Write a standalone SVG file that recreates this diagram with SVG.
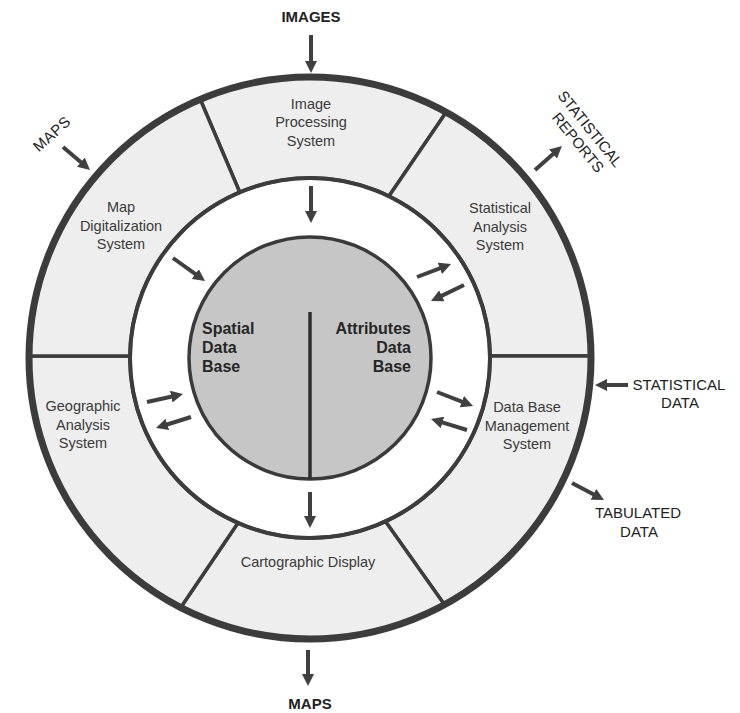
<svg xmlns="http://www.w3.org/2000/svg" width="740" height="713" viewBox="0 0 740 713">
<defs>
<style>
.seg{fill:#eeeeee;stroke:#3c3c3c;stroke-width:3.5;stroke-linejoin:round}
.lbl{font-family:"Liberation Sans",Arial,sans-serif;font-size:14.5px;fill:#3a3a3a;text-anchor:middle}
.out{font-family:"Liberation Sans",Arial,sans-serif;font-size:15px;fill:#222;text-anchor:middle}
.outb{font-family:"Liberation Sans",Arial,sans-serif;font-size:15px;font-weight:bold;fill:#222;text-anchor:middle}
.db{font-family:"Liberation Sans",Arial,sans-serif;font-size:16px;font-weight:bold;fill:#262626}
.arr{stroke:#404040;stroke-width:4;fill:none;marker-end:url(#ah)}
</style>
<marker id="ah" viewBox="0 0 12 12" refX="2" refY="6" markerWidth="12" markerHeight="12" markerUnits="userSpaceOnUse" orient="auto">
<path d="M0,0 L12,6 L0,12 Z" fill="#404040"/>
</marker>
</defs>
<rect width="740" height="713" fill="#ffffff"/>

<g id="image-processing">
<path class="seg" d="M200.2,99.3 A281,281 0 0 1 446.2,112.2 L388.9,196.2 A180,180 0 0 0 239.7,192.3 Z"/>
<text class="lbl" x="311" y="108.5">Image</text>
<text class="lbl" x="311" y="127">Processing</text>
<text class="lbl" x="311" y="145.5">System</text>
</g>
<g id="statistical-analysis">
<path class="seg" d="M446.2,112.2 A281,281 0 0 1 591,356 L490,356 A180,180 0 0 0 388.9,196.2 Z"/>
<text class="lbl" x="500" y="213">Statistical</text>
<text class="lbl" x="500" y="231.5">Analysis</text>
<text class="lbl" x="500" y="250">System</text>
</g>
<g id="data-base-management">
<path class="seg" d="M591,356 A281,281 0 0 1 444.5,604.7 L385.5,521.4 A180,180 0 0 0 490,356 Z"/>
<text class="lbl" x="527" y="412">Data Base</text>
<text class="lbl" x="527" y="430.5">Management</text>
<text class="lbl" x="527" y="449">System</text>
</g>
<g id="cartographic-display">
<path class="seg" d="M444.5,604.7 A281,281 0 0 1 180.7,607.5 L237.9,522.9 A180,180 0 0 0 385.5,521.4 Z"/>
<text class="lbl" x="308" y="567">Cartographic Display</text>
</g>
<g id="geographic-analysis">
<path class="seg" d="M180.7,607.5 A281,281 0 0 1 29,356 L130,356 A180,180 0 0 0 237.9,522.9 Z"/>
<text class="lbl" x="83" y="411">Geographic</text>
<text class="lbl" x="83" y="429.5">Analysis</text>
<text class="lbl" x="83" y="448">System</text>
</g>
<g id="map-digitalization">
<path class="seg" d="M29,356 A281,281 0 0 1 200.2,99.3 L239.7,192.3 A180,180 0 0 0 130,356 Z"/>
<text class="lbl" x="121" y="212">Map</text>
<text class="lbl" x="121" y="230.5">Digitalization</text>
<text class="lbl" x="121" y="249">System</text>
</g>

<g id="rings" fill="none" stroke="#3c3c3c">
<circle cx="310" cy="358" r="281" stroke-width="7"/>
<circle cx="310" cy="358" r="180" stroke-width="4"/>
</g>

<g id="database">
<circle cx="310" cy="358" r="121" fill="#c6c6c6" stroke="#3a3a3a" stroke-width="3.5"/>
<line x1="310" y1="312" x2="310" y2="479" stroke="#2e2e2e" stroke-width="3.5"/>
<g id="spatial-data-base">
<text class="db" x="202" y="334">Spatial</text>
<text class="db" x="202" y="353">Data</text>
<text class="db" x="202" y="372">Base</text>
</g>
<g id="attributes-data-base">
<text class="db" x="411" y="334" text-anchor="end">Attributes</text>
<text class="db" x="411" y="353" text-anchor="end">Data</text>
<text class="db" x="411" y="372" text-anchor="end">Base</text>
</g>
</g>

<g id="in-images"><text class="outb" x="311" y="21.5">IMAGES</text></g>
<g id="in-maps"><text class="out" x="52" y="139" transform="rotate(-42 52 134)" letter-spacing="0.5">MAPS</text></g>
<g id="out-statistical-reports" transform="translate(590 129) rotate(51)">
<text class="out" x="0" y="5">STATISTICAL</text>
<text class="out" x="3" y="23">REPORTS</text>
</g>
<g id="in-statistical-data">
<text class="out" x="679" y="390">STATISTICAL</text>
<text class="out" x="680" y="408">DATA</text>
</g>
<g id="out-tabulated-data">
<text class="out" x="638" y="518">TABULATED</text>
<text class="out" x="639" y="536.5">DATA</text>
</g>
<g id="out-maps"><text class="outb" x="310" y="709" font-size="14">MAPS</text></g>

<g id="connectors">
<line class="arr" x1="311" y1="35" x2="311" y2="63"/>
<line class="arr" x1="63" y1="147" x2="82.4" y2="163.5"/>
<line class="arr" x1="535" y1="170" x2="554.5" y2="152.7"/>
<line class="arr" x1="628" y1="385" x2="605" y2="385"/>
<line class="arr" x1="572" y1="483" x2="595.2" y2="495.3"/>
<line class="arr" x1="308" y1="650" x2="308" y2="676"/>
<line class="arr" x1="311" y1="186" x2="311" y2="213"/>
<line class="arr" x1="173" y1="258" x2="196.9" y2="275.2"/>
<line class="arr" x1="417" y1="277" x2="441.7" y2="267.6"/>
<line class="arr" x1="464" y1="285" x2="440" y2="296.6"/>
<line class="arr" x1="147" y1="402" x2="173.2" y2="396.2"/>
<line class="arr" x1="191" y1="417" x2="165.5" y2="425"/>
<line class="arr" x1="437" y1="392" x2="463.7" y2="402.4"/>
<line class="arr" x1="467" y1="430" x2="440.6" y2="421.9"/>
<line class="arr" x1="310" y1="492" x2="310" y2="518"/>
</g>
</svg>
